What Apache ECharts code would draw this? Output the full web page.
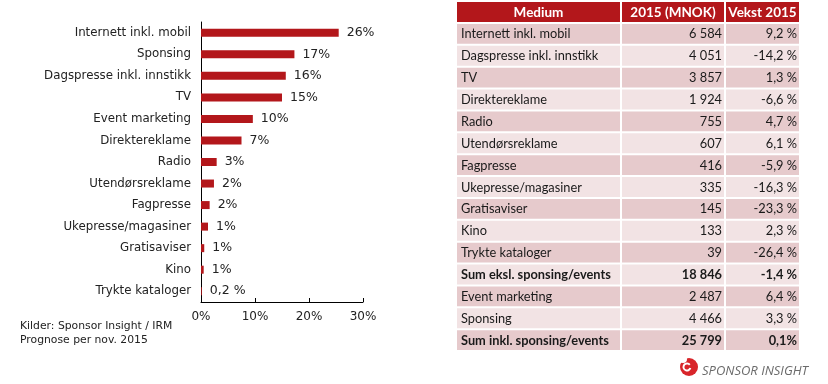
<!DOCTYPE html>
<html>
<head>
<meta charset="utf-8">
<script src="https://cdn.jsdelivr.net/npm/echarts@6/dist/echarts.min.js"></script>
<style>html,body{margin:0;padding:0;background:#fff}#c{width:828px;height:384px}</style>
</head>
<body>
<div id="c"></div>
<script>
// ---- Bar chart data ----
const barCategories = ['Internett inkl. mobil','Sponsing','Dagspresse inkl. innstikk','TV','Event marketing','Direktereklame','Radio','Utendørsreklame','Fagpresse','Ukepresse/magasiner','Gratisaviser','Kino','Trykte kataloger'];
const barShares = [25.5, 17.3, 15.7, 15.0, 9.6, 7.5, 2.9, 2.4, 1.6, 1.3, 0.6, 0.5, 0.15];
const barLabels = ['26%','17%','16%','15%','10%','7%','3%','2%','2%','1%','1%','1%','0,2 %'];
const xTickMax = 30, xTickStep = 10;
const footnotes = ['Kilder: Sponsor Insight / IRM', 'Prognose per nov. 2015'];

// ---- Table data ----
const tableHeaders = ['Medium', '2015 (MNOK)', 'Vekst 2015'];
const tableMedium = ['Internett inkl. mobil','Dagspresse inkl. innstikk','TV','Direktereklame','Radio','Utendørsreklame','Fagpresse','Ukepresse/magasiner','Gratisaviser','Kino','Trykte kataloger','Sum eksl. sponsing/events','Event marketing','Sponsing','Sum inkl. sponsing/events'];
const tableMnok = ['6 584','4 051','3 857','1 924','755','607','416','335','145','133','39','18 846','2 487','4 466','25 799'];
const tableGrowth = ['9,2 %','-14,2 %','1,3 %','-6,6 %','4,7 %','6,1 %','-5,9 %','-16,3 %','-23,3 %','2,3 %','-26,4 %','-1,4 %','6,4 %','3,3 %','0,1%'];
const boldRows = [11, 14];
const logoText = 'SPONSOR INSIGHT';

const RED = '#b3171b';
const tableRowCats = ['header'].concat(tableMedium);
const columns = [tableMedium, tableMnok, tableGrowth];
const colAlign = ['left', 'right', 'right'];
const colGrids = [
  {left: 456, width: 165},
  {left: 621, width: 104},
  {left: 725, width: 75}
];
const TFONT = 'Lato, "Noto Sans", sans-serif';
const VFONT = 'DejaVu Sans, Verdana, sans-serif';

function cellRender(colIdx) {
  return function (params, api) {
    const row = api.value(1);
    const cs = params.coordSys;
    const cy = api.coord([0, row])[1];
    const h = api.size([0, 1])[1];
    const isHeader = row === 0;
    const dataRow = row - 1;
    const fill = isHeader ? RED : (dataRow % 2 === 0 ? '#e6cacc' : '#f2e3e4');
    const bold = isHeader || boldRows.indexOf(dataRow) >= 0;
    const text = isHeader ? tableHeaders[colIdx] : columns[colIdx][dataRow];
    let tx, align;
    if (isHeader) { tx = cs.x + cs.width / 2; align = 'center'; }
    else if (colAlign[colIdx] === 'left') { tx = cs.x + 5; align = 'left'; }
    else { tx = cs.x + cs.width - 3; align = 'right'; }
    return {
      type: 'group',
      children: [
        {type: 'rect', shape: {x: cs.x + 1, y: cy - h / 2 + 1, width: cs.width - 2, height: h - 2}, style: {fill: fill}},
        {type: 'text', style: {text: text, x: tx, y: cy + 0.5, align: align, verticalAlign: 'middle',
          fill: isHeader ? '#ffffff' : '#1a1a1a', fontSize: isHeader ? 13.5 : 12.8,
          fontWeight: bold ? 'bold' : 'normal', fontFamily: TFONT}}
      ]
    };
  };
}

const grids = [{left: 201, top: 22, width: 162, height: 280}];
const xAxes = [{
  gridIndex: 0, type: 'value', min: 0, max: xTickMax, interval: xTickStep,
  axisLine: {show: true, lineStyle: {color: '#000', width: 1}},
  axisTick: {show: true, inside: true, length: 4, lineStyle: {color: '#000'}},
  splitLine: {show: false},
  axisLabel: {formatter: '{value}%', color: '#222', fontSize: 12, fontFamily: VFONT, margin: 9}
}];
const yAxes = [{
  gridIndex: 0, type: 'category', data: barCategories, inverse: true,
  axisLine: {show: true, lineStyle: {color: '#000', width: 1}},
  axisTick: {show: false},
  axisLabel: {color: '#222', fontSize: 11.8, fontFamily: VFONT, margin: 10}
}];
const series = [{
  type: 'bar', xAxisIndex: 0, yAxisIndex: 0, data: barShares, barWidth: 8,
  itemStyle: {color: RED},
  label: {show: true, position: 'right', distance: 8, color: '#222', fontSize: 12.5,
    fontFamily: VFONT,
    formatter: function (p) { return barLabels[p.dataIndex]; }},
  silent: true
}];

colGrids.forEach(function (g, i) {
  grids.push({left: g.left, width: g.width, top: 1, height: 350});
  xAxes.push({gridIndex: i + 1, type: 'value', min: 0, max: 1, show: false});
  yAxes.push({gridIndex: i + 1, type: 'category', data: tableRowCats, inverse: true, show: false});
  series.push({
    type: 'custom', xAxisIndex: i + 1, yAxisIndex: i + 1, silent: true,
    renderItem: cellRender(i),
    data: tableRowCats.map(function (_, r) { return [0, r]; })
  });
});

const chart = echarts.init(document.getElementById('c'), null, {renderer: 'canvas'});
chart.setOption({
  backgroundColor: '#ffffff',
  animation: false,
  grid: grids, xAxis: xAxes, yAxis: yAxes, series: series,
  graphic: [
    {type: 'text', left: 20, top: 321, style: {text: footnotes[0], fill: '#222', fontSize: 10.8, fontFamily: VFONT}},
    {type: 'text', left: 20, top: 335, style: {text: footnotes[1], fill: '#222', fontSize: 10.8, fontFamily: VFONT}},
    {type: 'circle', shape: {cx: 689, cy: 367, r: 9}, style: {fill: '#d8252a'}},
    {type: 'arc', shape: {cx: 687, cy: 367, r: 3.5, startAngle: 0.3, endAngle: 5.6}, style: {stroke: '#fff', lineWidth: 2, fill: null}},
    {type: 'circle', shape: {cx: 683, cy: 359, r: 4}, style: {fill: '#fff'}},
    {type: 'text', left: 702, top: 365, style: {text: logoText, fill: '#6b6b6b', fontSize: 13, fontStyle: 'italic', fontFamily: '"Open Sans", "Noto Sans", sans-serif', fontWeight: 'normal'}}
  ]
});
</script>
</body>
</html>
